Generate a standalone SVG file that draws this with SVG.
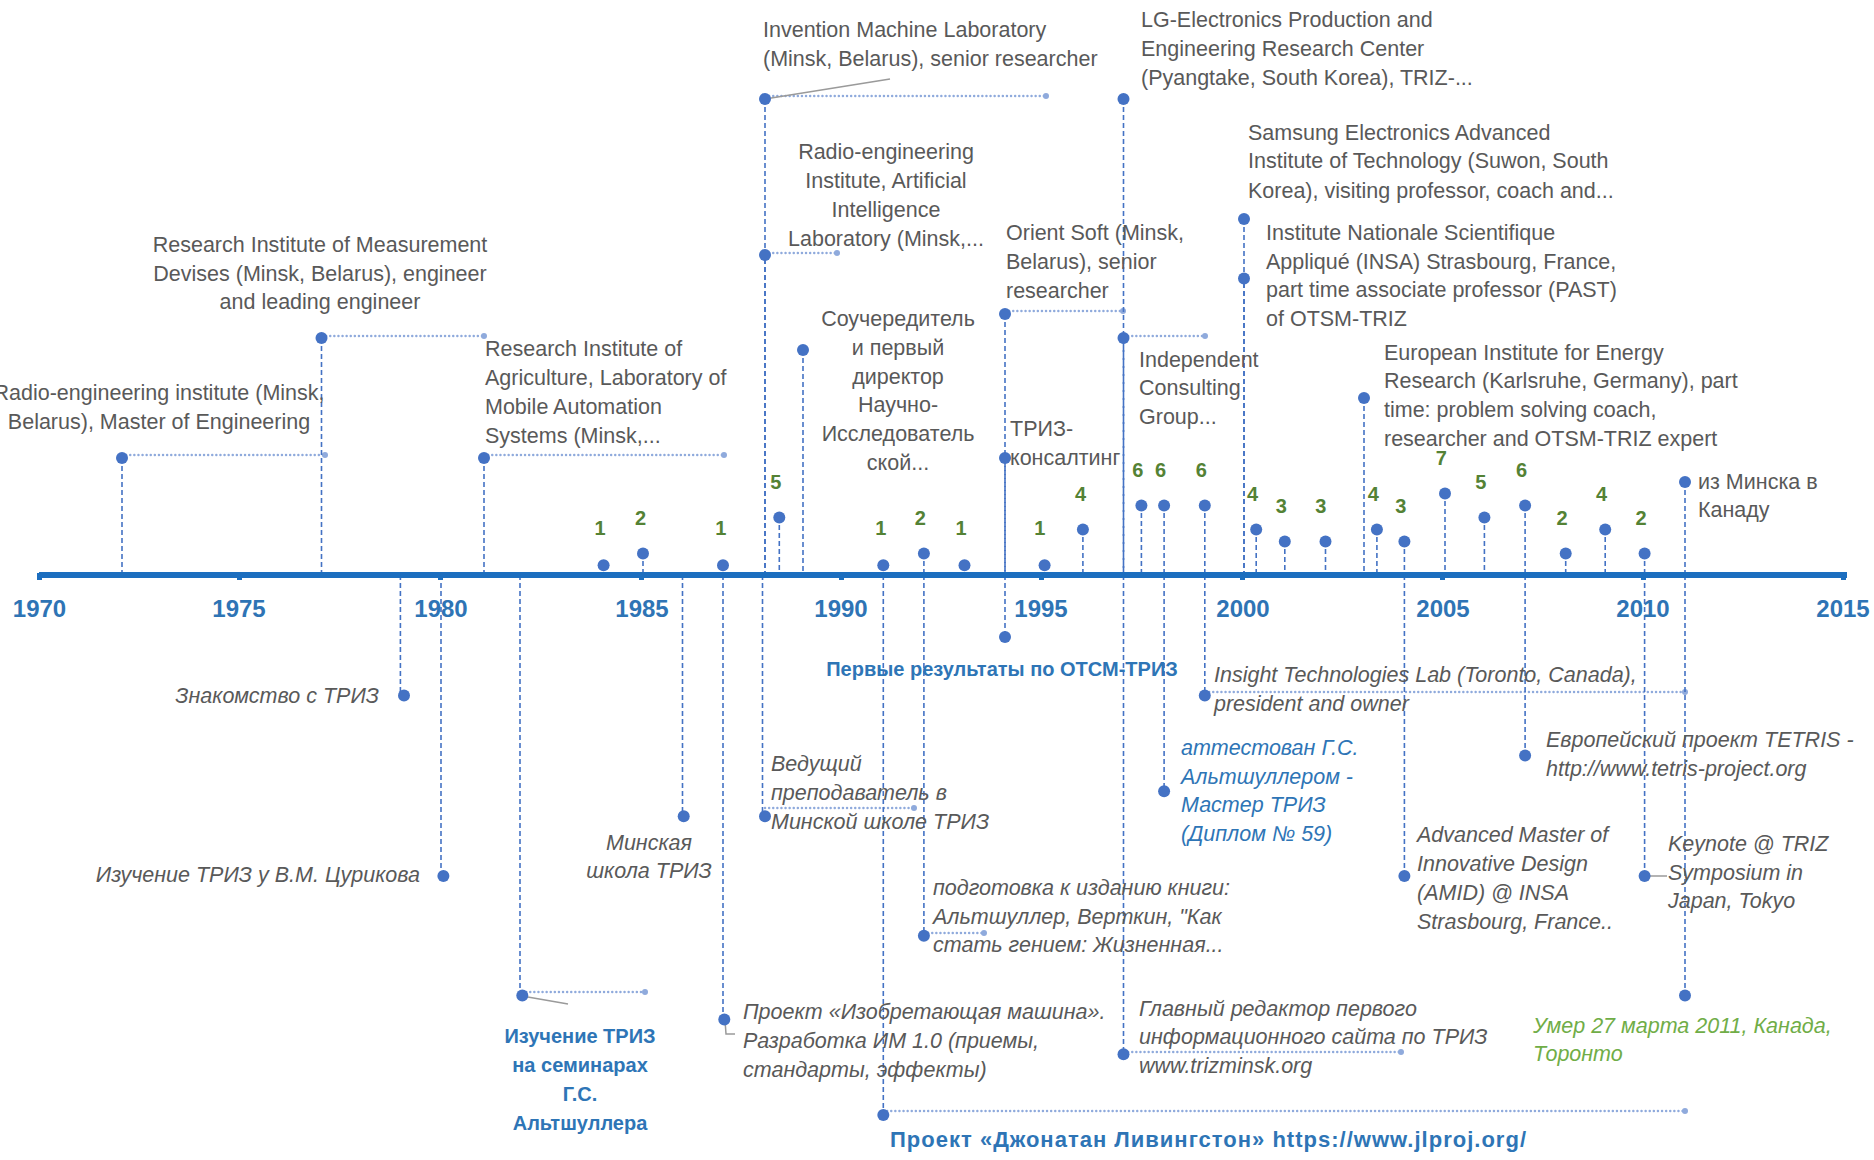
<svg xmlns="http://www.w3.org/2000/svg" width="1874" height="1160" viewBox="0 0 1874 1160">
<defs>
<style>
text{font-family:"Liberation Sans",Arial,sans-serif;font-size:21.5px;fill:#595959}
.it{font-style:italic}
.bb{font-weight:bold;fill:#2E75B6;font-size:20px}
.ib{font-style:italic;fill:#2E75B6}
.ig{font-style:italic;fill:#70AD47}
.mid{text-anchor:middle}
.end{text-anchor:end}
.cnt{font-weight:bold;fill:#548235;text-anchor:middle;font-size:20px}
.yr{font-weight:bold;fill:#2E74B5;font-size:24px;text-anchor:middle}
.vl{stroke:#4472C4;stroke-width:1.6;stroke-dasharray:5 3;fill:none}
.vl2{stroke:#4472C4;stroke-width:1.6;stroke-dasharray:5 3;stroke-dashoffset:4;fill:none}
.hl{stroke:#8FAADC;stroke-width:2.4;stroke-dasharray:0.1 4;stroke-linecap:round;fill:none;marker-end:url(#end)}
.ld{stroke:#9a9a9a;stroke-width:1.5;fill:none}
.dot{fill:#4472C4}
</style>
<marker id="end" viewBox="0 0 6 6" refX="3" refY="3" markerWidth="6" markerHeight="6" markerUnits="userSpaceOnUse"><circle cx="3" cy="3" r="3" fill="#8FAADC"/></marker>
<clipPath id="clipTriz"><rect x="990" y="400" width="133" height="80"/></clipPath>
</defs>
<rect width="1874" height="1160" fill="#ffffff"/>

<g id="connectors">
<line class="hl" x1="122" y1="455" x2="325" y2="455"/>
<line class="hl" x1="322" y1="336" x2="484" y2="336"/>
<line class="hl" x1="484" y1="455" x2="724" y2="455"/>
<line class="hl" x1="765" y1="96" x2="1046" y2="96"/>
<line class="hl" x1="765" y1="253" x2="837" y2="253"/>
<line class="hl" x1="1005" y1="311" x2="1123" y2="311"/>
<line class="hl" x1="1124" y1="336" x2="1205" y2="336"/>
<line class="hl" x1="522" y1="992" x2="645" y2="992"/>
<line class="hl" x1="765" y1="808" x2="914" y2="808"/>
<line class="hl" x1="883" y1="1111" x2="1685" y2="1111"/>
<line class="hl" x1="924" y1="933" x2="984" y2="933"/>
<line class="hl" x1="1124" y1="1052" x2="1401" y2="1052"/>
<line class="hl" x1="1205" y1="692" x2="1685" y2="692"/>
<line class="vl" x1="122" y1="458" x2="122" y2="575"/>
<line class="vl" x1="321.5" y1="338" x2="321.5" y2="575"/>
<line class="vl" x1="484" y1="458" x2="484" y2="575"/>
<line class="vl" x1="765" y1="99" x2="765" y2="575"/>
<line class="vl2" x1="765" y1="255" x2="765" y2="575"/>
<line class="vl" x1="803" y1="350" x2="803" y2="575"/>
<line class="vl" x1="1005" y1="314" x2="1005" y2="575"/>
<line class="vl2" x1="1005" y1="458" x2="1005" y2="575"/>
<line class="vl" x1="1123.5" y1="99" x2="1123.5" y2="575"/>
<line class="vl2" x1="1123.5" y1="338" x2="1123.5" y2="575"/>
<line class="vl" x1="1244" y1="219" x2="1244" y2="575"/>
<line class="vl2" x1="1244" y1="279" x2="1244" y2="575"/>
<line class="vl" x1="1364" y1="398" x2="1364" y2="575"/>
<line class="vl" x1="1685" y1="482" x2="1685" y2="575"/>
<line class="vl" x1="603.6" y1="565" x2="603.6" y2="575"/>
<line class="vl" x1="643" y1="553" x2="643" y2="575"/>
<line class="vl" x1="723" y1="565" x2="723" y2="575"/>
<line class="vl" x1="779.3" y1="517" x2="779.3" y2="575"/>
<line class="vl" x1="883.3" y1="565" x2="883.3" y2="575"/>
<line class="vl" x1="923.9" y1="553" x2="923.9" y2="575"/>
<line class="vl" x1="964.5" y1="565" x2="964.5" y2="575"/>
<line class="vl" x1="1044.6" y1="565" x2="1044.6" y2="575"/>
<line class="vl" x1="1082.9" y1="529" x2="1082.9" y2="575"/>
<line class="vl" x1="1141.4" y1="505" x2="1141.4" y2="575"/>
<line class="vl" x1="1164.1" y1="505" x2="1164.1" y2="575"/>
<line class="vl" x1="1204.8" y1="505" x2="1204.8" y2="575"/>
<line class="vl" x1="1256.2" y1="529" x2="1256.2" y2="575"/>
<line class="vl" x1="1284.8" y1="541" x2="1284.8" y2="575"/>
<line class="vl" x1="1325.5" y1="541" x2="1325.5" y2="575"/>
<line class="vl" x1="1376.9" y1="529" x2="1376.9" y2="575"/>
<line class="vl" x1="1404.4" y1="541" x2="1404.4" y2="575"/>
<line class="vl" x1="1445" y1="493" x2="1445" y2="575"/>
<line class="vl" x1="1484.4" y1="517" x2="1484.4" y2="575"/>
<line class="vl" x1="1525.1" y1="505" x2="1525.1" y2="575"/>
<line class="vl" x1="1565.7" y1="553" x2="1565.7" y2="575"/>
<line class="vl" x1="1605.2" y1="529" x2="1605.2" y2="575"/>
<line class="vl" x1="1644.6" y1="553" x2="1644.6" y2="575"/>
<line class="vl" x1="400.4" y1="575" x2="400.4" y2="695"/>
<line class="vl" x1="441" y1="575" x2="441" y2="876"/>
<line class="vl" x1="520" y1="575" x2="520" y2="996"/>
<line class="vl" x1="682.5" y1="575" x2="682.5" y2="816"/>
<line class="vl" x1="723" y1="575" x2="723" y2="1019"/>
<line class="vl" x1="762.5" y1="575" x2="762.5" y2="816"/>
<line class="vl" x1="883.3" y1="575" x2="883.3" y2="1115"/>
<line class="vl" x1="923.9" y1="575" x2="923.9" y2="936"/>
<line class="vl" x1="1005" y1="575" x2="1005" y2="637"/>
<line class="vl" x1="1123.5" y1="575" x2="1123.5" y2="1054"/>
<line class="vl" x1="1164.1" y1="575" x2="1164.1" y2="791"/>
<line class="vl" x1="1204.8" y1="575" x2="1204.8" y2="695"/>
<line class="vl" x1="1404.4" y1="575" x2="1404.4" y2="876"/>
<line class="vl" x1="1525.1" y1="575" x2="1525.1" y2="755"/>
<line class="vl" x1="1644.6" y1="575" x2="1644.6" y2="876"/>
<line class="vl" x1="1685" y1="575" x2="1685" y2="996"/>
<line class="ld" x1="765" y1="99" x2="890" y2="79"/>
<line class="ld" x1="522" y1="996" x2="568" y2="1004"/>
<polyline class="ld" points="725,1020 726,1034 735,1034"/>
<line class="ld" x1="1645" y1="876" x2="1667" y2="876"/>
</g>

<g id="axis">
<line x1="39" y1="575" x2="1847" y2="575" stroke="#1C6EBF" stroke-width="6"/>
<g fill="#1C6EBF">
<rect x="37" y="573" width="5" height="7"/><rect x="237" y="573" width="5" height="7"/><rect x="438" y="573" width="5" height="7"/><rect x="639" y="573" width="5" height="7"/><rect x="839" y="573" width="5" height="7"/><rect x="1039" y="573" width="5" height="7"/><rect x="1240" y="573" width="5" height="7"/><rect x="1440" y="573" width="5" height="7"/><rect x="1641" y="573" width="5" height="7"/><rect x="1841" y="573" width="5" height="7"/>
</g>
<text class="yr" x="39.5" y="617">1970</text>
<text class="yr" x="239" y="617">1975</text>
<text class="yr" x="441" y="617">1980</text>
<text class="yr" x="642" y="617">1985</text>
<text class="yr" x="841" y="617">1990</text>
<text class="yr" x="1041" y="617">1995</text>
<text class="yr" x="1243" y="617">2000</text>
<text class="yr" x="1443" y="617">2005</text>
<text class="yr" x="1643" y="617">2010</text>
<text class="yr" x="1843" y="617">2015</text>
</g>

<g id="counts">
<circle class="dot" cx="603.6" cy="565.3" r="6"/><text class="cnt" x="600" y="535">1</text>
<circle class="dot" cx="643" cy="553.4" r="6"/><text class="cnt" x="640.6" y="524.5">2</text>
<circle class="dot" cx="723" cy="565.3" r="6"/><text class="cnt" x="720.7" y="535">1</text>
<circle class="dot" cx="779.3" cy="517.5" r="6"/><text class="cnt" x="775.7" y="488.7">5</text>
<circle class="dot" cx="883.3" cy="565.3" r="6"/><text class="cnt" x="880.9" y="535">1</text>
<circle class="dot" cx="923.9" cy="553.4" r="6"/><text class="cnt" x="920.3" y="524.5">2</text>
<circle class="dot" cx="964.5" cy="565.3" r="6"/><text class="cnt" x="961" y="535">1</text>
<circle class="dot" cx="1044.6" cy="565.3" r="6"/><text class="cnt" x="1039.8" y="535">1</text>
<circle class="dot" cx="1082.9" cy="529.5" r="6"/><text class="cnt" x="1080.5" y="500.6">4</text>
<circle class="dot" cx="1141.4" cy="505.6" r="6"/><text class="cnt" x="1137.8" y="476.7">6</text>
<circle class="dot" cx="1164.1" cy="505.6" r="6"/><text class="cnt" x="1160.5" y="476.7">6</text>
<circle class="dot" cx="1204.8" cy="505.6" r="6"/><text class="cnt" x="1201.2" y="476.7">6</text>
<circle class="dot" cx="1256.2" cy="529.5" r="6"/><text class="cnt" x="1252.6" y="500.6">4</text>
<circle class="dot" cx="1284.8" cy="541.4" r="6"/><text class="cnt" x="1281.3" y="512.6">3</text>
<circle class="dot" cx="1325.5" cy="541.4" r="6"/><text class="cnt" x="1320.7" y="512.6">3</text>
<circle class="dot" cx="1376.9" cy="529.5" r="6"/><text class="cnt" x="1373.3" y="500.6">4</text>
<circle class="dot" cx="1404.4" cy="541.4" r="6"/><text class="cnt" x="1400.8" y="512.6">3</text>
<circle class="dot" cx="1445" cy="493.6" r="6"/><text class="cnt" x="1441.4" y="464.8">7</text>
<circle class="dot" cx="1484.4" cy="517.5" r="6"/><text class="cnt" x="1480.8" y="488.7">5</text>
<circle class="dot" cx="1525.1" cy="505.6" r="6"/><text class="cnt" x="1521.5" y="476.7">6</text>
<circle class="dot" cx="1565.7" cy="553.4" r="6"/><text class="cnt" x="1562.1" y="524.5">2</text>
<circle class="dot" cx="1605.2" cy="529.5" r="6"/><text class="cnt" x="1601.6" y="500.6">4</text>
<circle class="dot" cx="1644.6" cy="553.4" r="6"/><text class="cnt" x="1641" y="524.5">2</text>
</g>

<g id="radio-master">
<circle class="dot" cx="122" cy="458" r="6"/>
<text class="mid" x="159" y="400">Radio-engineering institute (Minsk,</text>
<text class="mid" x="159" y="429">Belarus), Master of Engineering</text>
</g>
<g id="measurement">
<circle class="dot" cx="321.5" cy="338" r="6"/>
<text class="mid" x="320" y="252">Research Institute of Measurement</text>
<text class="mid" x="320" y="281">Devises (Minsk, Belarus), engineer</text>
<text class="mid" x="320" y="309">and leading engineer</text>
</g>
<g id="agriculture">
<circle class="dot" cx="484" cy="458" r="6"/>
<text x="485" y="356">Research Institute of</text>
<text x="485" y="385">Agriculture, Laboratory of</text>
<text x="485" y="414">Mobile Automation</text>
<text x="485" y="443">Systems (Minsk,...</text>
</g>
<g id="invention-machine">
<circle class="dot" cx="765" cy="99" r="6"/>
<text x="763" y="37">Invention Machine Laboratory</text>
<text x="763" y="66">(Minsk, Belarus), senior researcher</text>
</g>
<g id="radio-ai">
<circle class="dot" cx="765" cy="255" r="6"/>
<text class="mid" x="886" y="159">Radio-engineering</text>
<text class="mid" x="886" y="188">Institute, Artificial</text>
<text class="mid" x="886" y="217">Intelligence</text>
<text class="mid" x="886" y="246">Laboratory (Minsk,...</text>
</g>
<g id="founder">
<circle class="dot" cx="803" cy="350" r="6"/>
<text class="mid" x="898" y="326">Соучередитель</text>
<text class="mid" x="898" y="355">и первый</text>
<text class="mid" x="898" y="384">директор</text>
<text class="mid" x="898" y="412">Научно-</text>
<text class="mid" x="898" y="441">Исследователь</text>
<text class="mid" x="898" y="470">ской...</text>
</g>
<g id="orient-soft">
<circle class="dot" cx="1005" cy="314" r="6"/>
<text x="1006" y="240">Orient Soft (Minsk,</text>
<text x="1006" y="269">Belarus), senior</text>
<text x="1006" y="298">researcher</text>
</g>
<g id="triz-consulting">
<circle class="dot" cx="1005" cy="458" r="6"/>
<text x="1010" y="436">ТРИЗ-</text>
<text x="1010" y="465" clip-path="url(#clipTriz)">консалтинг</text>
</g>
<g id="first-results">
<circle class="dot" cx="1005" cy="637" r="6"/>
<text class="bb mid" x="1002" y="676">Первые результаты по ОТСМ-ТРИЗ</text>
</g>
<g id="lg">
<circle class="dot" cx="1123.5" cy="99" r="6"/>
<text x="1141" y="27">LG-Electronics Production and</text>
<text x="1141" y="56">Engineering Research Center</text>
<text x="1141" y="85">(Pyangtake, South Korea), TRIZ-...</text>
</g>
<g id="independent">
<circle class="dot" cx="1123.5" cy="338" r="6"/>
<text x="1139" y="367">Independent</text>
<text x="1139" y="395">Consulting</text>
<text x="1139" y="424">Group...</text>
</g>
<g id="samsung">
<circle class="dot" cx="1244" cy="219" r="6"/>
<text x="1248" y="140">Samsung Electronics Advanced</text>
<text x="1248" y="168">Institute of Technology (Suwon, South</text>
<text x="1248" y="198">Korea), visiting professor, coach and...</text>
</g>
<g id="insa">
<circle class="dot" cx="1244" cy="278.5" r="6"/>
<text x="1266" y="240">Institute Nationale  Scientifique</text>
<text x="1266" y="269">Appliqué (INSA) Strasbourg, France,</text>
<text x="1266" y="297">part time associate professor (PAST)</text>
<text x="1266" y="326">of OTSM-TRIZ</text>
</g>
<g id="eifer">
<circle class="dot" cx="1364" cy="398" r="6"/>
<text x="1384" y="360">European Institute for Energy</text>
<text x="1384" y="388">Research (Karlsruhe, Germany), part</text>
<text x="1384" y="417">time: problem solving coach,</text>
<text x="1384" y="446">researcher and OTSM-TRIZ expert</text>
</g>
<g id="to-canada">
<circle class="dot" cx="1685" cy="482" r="6"/>
<text x="1698" y="489">из Минска в</text>
<text x="1698" y="517">Канаду</text>
</g>

<g id="acquaintance">
<circle class="dot" cx="404" cy="695.6" r="6"/>
<text class="it end" x="379" y="703">Знакомство с ТРИЗ</text>
</g>
<g id="tsurikov">
<circle class="dot" cx="443.4" cy="876" r="6"/>
<text class="it end" x="420" y="882">Изучение ТРИЗ у В.М. Цурикова</text>
</g>
<g id="seminars">
<circle class="dot" cx="522.3" cy="995.6" r="6"/>
<text class="bb mid" x="580" y="1043">Изучение ТРИЗ</text>
<text class="bb mid" x="580" y="1072">на семинарах</text>
<text class="bb mid" x="580" y="1101">Г.С.</text>
<text class="bb mid" x="580" y="1130">Альтшуллера</text>
</g>
<g id="minsk-school">
<circle class="dot" cx="683.7" cy="816.3" r="6"/>
<text class="it mid" x="649" y="850">Минская</text>
<text class="it mid" x="649" y="878">школа ТРИЗ</text>
</g>
<g id="inventing-machine">
<circle class="dot" cx="724.3" cy="1019.5" r="6"/>
<text class="it" x="743" y="1019">Проект «Изобретающая машина».</text>
<text class="it" x="743" y="1048">Разработка ИМ 1.0 (приемы,</text>
<text class="it" x="743" y="1077">стандарты, эффекты)</text>
</g>
<g id="lead-teacher">
<circle class="dot" cx="765" cy="816.3" r="6"/>
<text class="it" x="771" y="771">Ведущий</text>
<text class="it" x="771" y="800">преподаватель в</text>
<text class="it" x="771" y="829">Минской школе ТРИЗ</text>
</g>
<g id="jonathan">
<circle class="dot" cx="883.3" cy="1115" r="6"/>
<text class="bb" x="890" y="1147" style="font-size:22px" textLength="636" lengthAdjust="spacing">Проект «Джонатан  Ливингстон» https://www.jlproj.org/</text>
</g>
<g id="book">
<circle class="dot" cx="923.9" cy="935.8" r="6"/>
<text class="it" x="933" y="895">подготовка к изданию книги:</text>
<text class="it" x="933" y="924">Альтшуллер, Верткин, "Как</text>
<text class="it" x="933" y="952">стать гением: Жизненная...</text>
</g>
<g id="chief-editor">
<circle class="dot" cx="1123.5" cy="1054.2" r="6"/>
<text class="it" x="1139" y="1016">Главный редактор первого</text>
<text class="it" x="1139" y="1044">информационного сайта по ТРИЗ</text>
<text class="it" x="1139" y="1073">www.trizminsk.org</text>
</g>
<g id="insight">
<circle class="dot" cx="1204.8" cy="695.6" r="6"/>
<text class="it" x="1214" y="682">Insight Technologies Lab (Toronto, Canada),</text>
<text class="it" x="1214" y="711">president and owner</text>
</g>
<g id="certified">
<circle class="dot" cx="1164.1" cy="791.2" r="6"/>
<text class="ib" x="1181" y="755">аттестован Г.С.</text>
<text class="ib" x="1181" y="784">Альтшуллером -</text>
<text class="ib" x="1181" y="812">Мастер ТРИЗ</text>
<text class="ib" x="1181" y="841">(Диплом № 59)</text>
</g>
<g id="amid">
<circle class="dot" cx="1404.4" cy="876.1" r="6"/>
<text class="it" x="1417" y="842">Advanced Master of</text>
<text class="it" x="1417" y="871">Innovative Design</text>
<text class="it" x="1417" y="900">(AMID) @ INSA</text>
<text class="it" x="1417" y="929">Strasbourg, France..</text>
</g>
<g id="tetris">
<circle class="dot" cx="1525.1" cy="755.4" r="6"/>
<text class="it" x="1546" y="747">Европейский проект TETRIS -</text>
<text class="it" x="1546" y="776">http://www.tetris-project.org</text>
</g>
<g id="keynote">
<circle class="dot" cx="1644.6" cy="876.1" r="6"/>
<text class="it" x="1668" y="851">Keynote @ TRIZ</text>
<text class="it" x="1668" y="880">Symposium in</text>
<text class="it" x="1668" y="908">Japan, Tokyo</text>
</g>
<g id="died">
<circle class="dot" cx="1685" cy="995.6" r="6"/>
<text class="ig" x="1533" y="1033">Умер 27 марта 2011, Канада,</text>
<text class="ig" x="1533" y="1061">Торонто</text>
</g>
</svg>
